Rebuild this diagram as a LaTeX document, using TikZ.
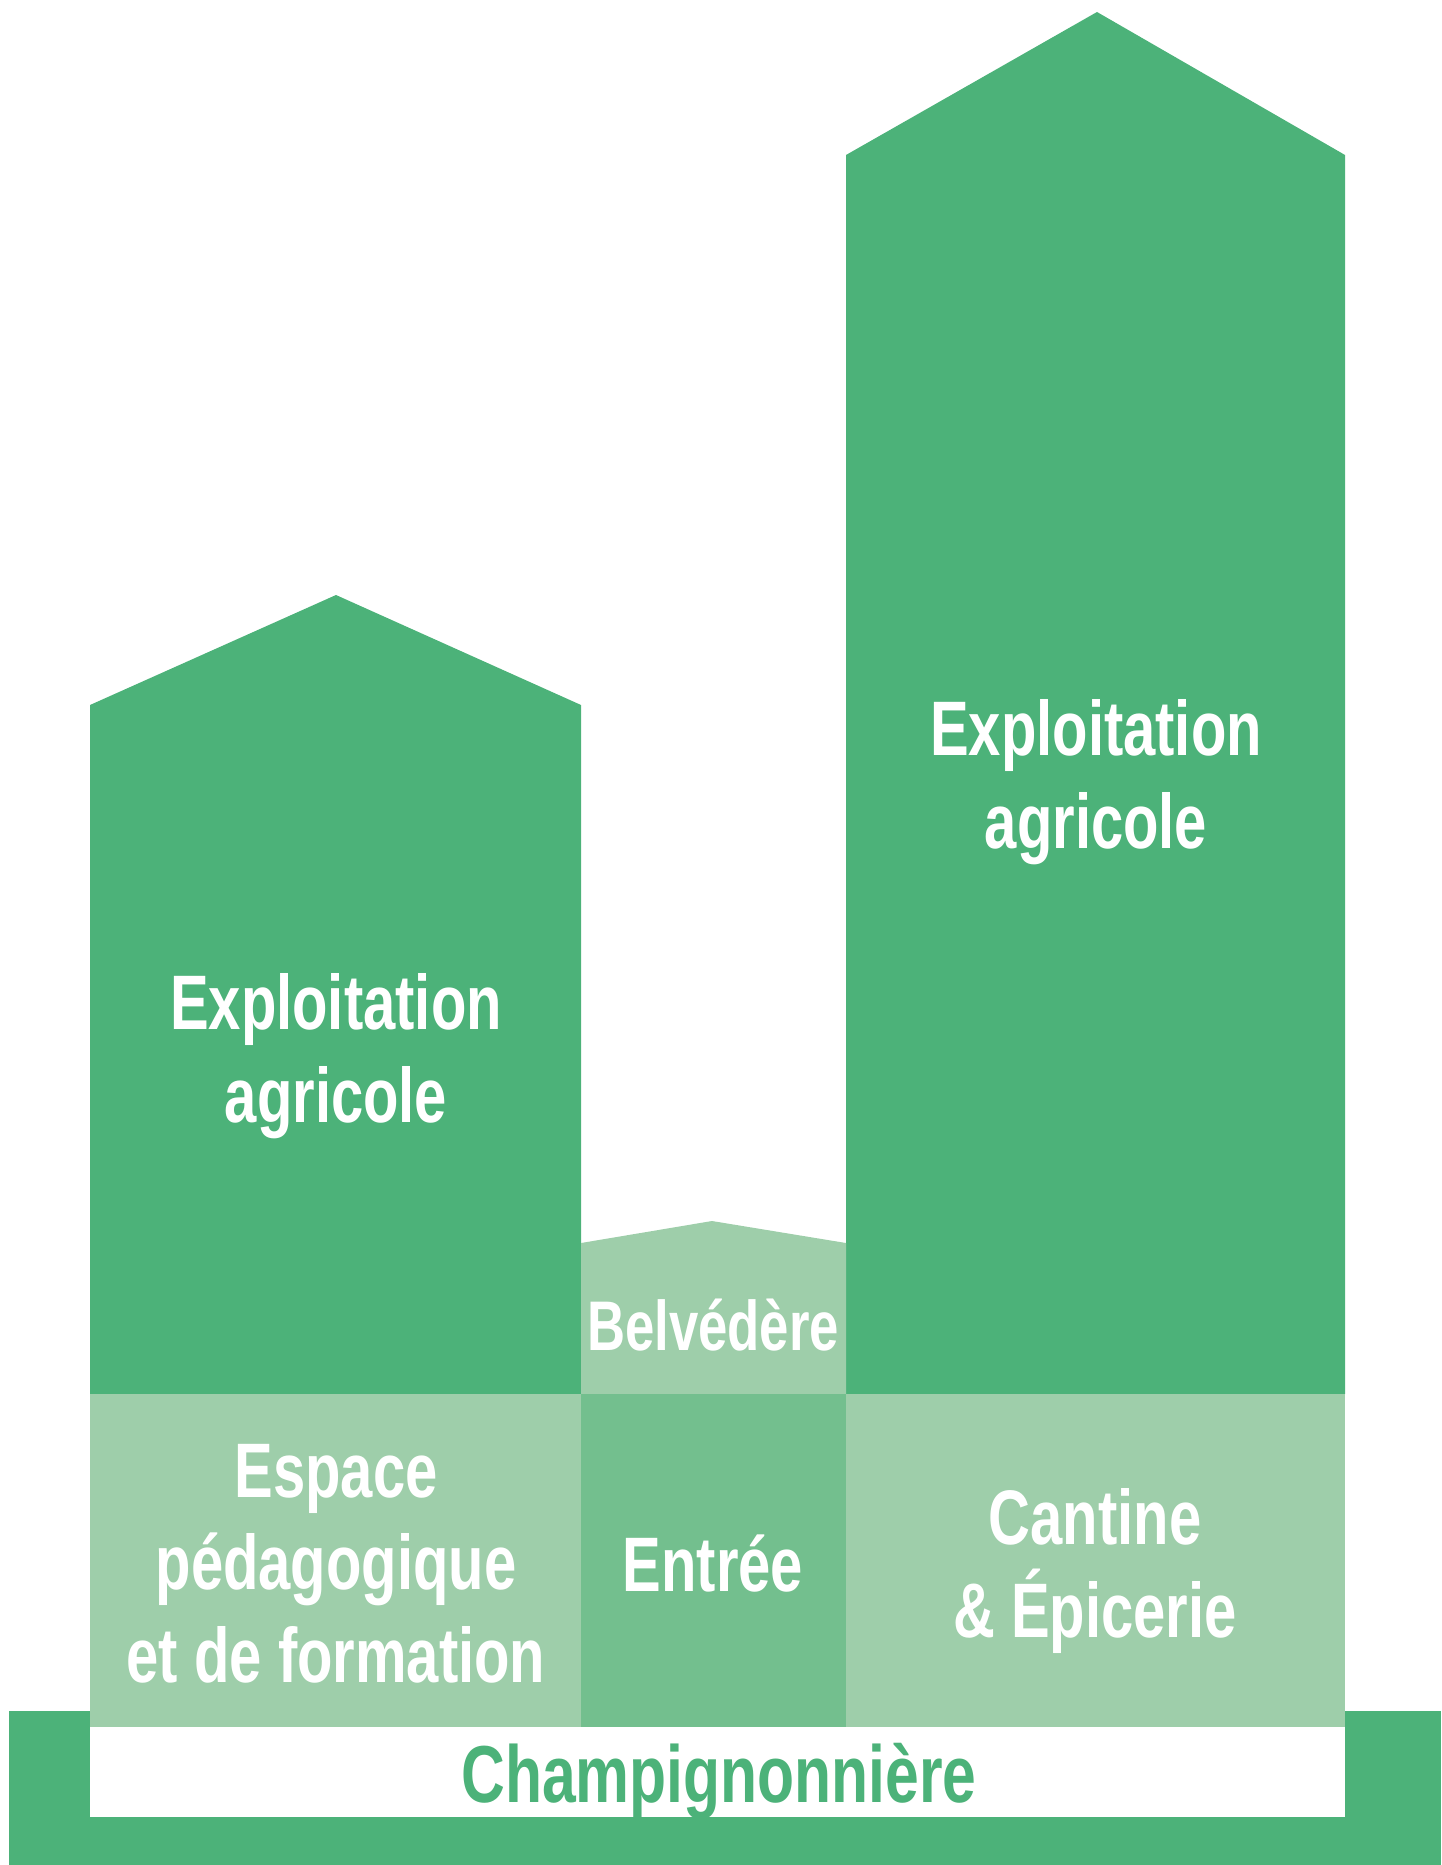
\documentclass[tikz,border=0pt]{standalone}
\usepackage{fontspec}
\setmainfont{Liberation Sans}[FakeStretch=0.75]
\definecolor{champdark}{RGB}{76,178,121}
\definecolor{champlight}{RGB}{158,206,170}
\definecolor{champmid}{RGB}{115,191,142}
\tikzset{
  roomlabel/.style={text=white, font=\bfseries\fontsize{44}{52.5}\selectfont, align=center, anchor=base, inner sep=0pt},
  sitelabel/.style={roomlabel, text=champdark, font=\bfseries\fontsize{46}{52}\selectfont}
}

\begin{document}
\begin{tikzpicture}[x=0.02cm, y=-0.02cm]
	\useasboundingbox (0,0) rectangle (1441,1865);
	
	% base band
	\fill[champdark] (9,1711) rectangle (1441,1865);
	\fill[white] (90,1727) rectangle (1345,1817);
	
	% towers
	\fill[champdark] (90,1394) -- (90,705) -- (336,595) -- (581,705) -- (581,1394) -- cycle;
	\fill[champdark] (846,1394) -- (846,155) -- (1097,12) -- (1345,155) -- (1345,1394) -- cycle;
	\fill[champlight] (581,1394) -- (581,1243) -- (712,1221) -- (846,1243) -- (846,1394) -- cycle;
	
	% ground floor
	\fill[champlight] (90,1394) rectangle (581,1727);
	\fill[champmid] (581,1394) rectangle (846,1727);
	\fill[champlight] (846,1394) rectangle (1345,1727);
	
	% labels (base = baseline of last line)
	\node[roomlabel] (exploitL) at (336,1122) {Exploitation\\agricole};
	\node[roomlabel] (exploitR) at (1096,848) {Exploitation\\agricole};
	\node[roomlabel, font=\bfseries\fontsize{40}{48}\selectfont] (belvedere) at (713,1350) {Belvédère};
	\node[roomlabel] (espace) at (336,1682) {Espace\\pédagogique\\et de formation};
	\node[roomlabel] (entree) at (713,1591) {Entrée};
	\node[roomlabel] (cantine) at (1095,1637) {Cantine\\\& Épicerie};
	\node[sitelabel] (champi) at (719,1802) {Champignonnière};
\end{tikzpicture}
\end{document}
